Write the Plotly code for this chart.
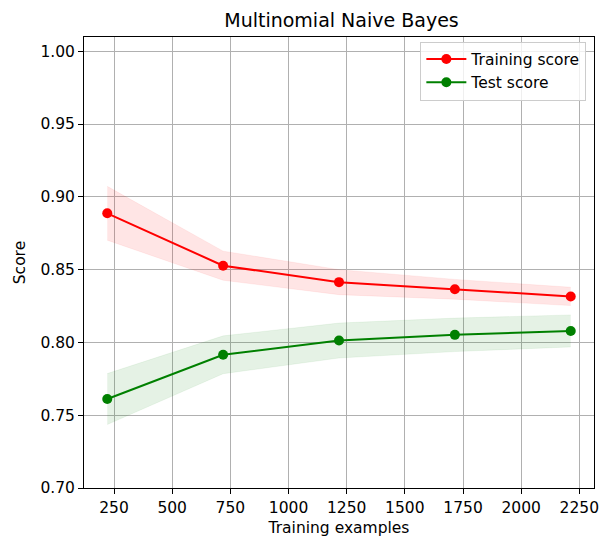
import numpy as np
import plotly.graph_objects as go

train_sizes = [221, 719, 1217, 1715, 2213]
train_mean = [0.8887, 0.8527, 0.8414, 0.8365, 0.8316]
train_std = [0.0185, 0.0100, 0.0086, 0.0068, 0.0063]
test_mean = [0.7611, 0.7915, 0.8013, 0.8052, 0.8079]
test_std = [0.0175, 0.0130, 0.0120, 0.0115, 0.0110]

x_ticks = [250, 500, 750, 1000, 1250, 1500, 1750, 2000, 2250]
y_ticks = [0.70, 0.75, 0.80, 0.85, 0.90, 0.95, 1.00]

FONT = "DejaVu Sans"
fig = go.Figure()

def band(mean, std, fillcolor, edgecolor):
    lo = [m - s for m, s in zip(mean, std)]
    hi = [m + s for m, s in zip(mean, std)]
    fig.add_trace(go.Scatter(x=train_sizes, y=lo, mode="lines", line=dict(width=1, color=edgecolor),
                             showlegend=False, hoverinfo="skip"))
    fig.add_trace(go.Scatter(x=train_sizes, y=hi, mode="lines", line=dict(width=1, color=edgecolor),
                             fill="tonexty", fillcolor=fillcolor, showlegend=False, hoverinfo="skip"))

band(train_mean, train_std, "rgba(255,0,0,0.1)", "rgba(255,0,0,0.06)")
band(test_mean, test_std, "rgba(0,128,0,0.1)", "rgba(0,128,0,0.06)")

fig.add_trace(go.Scatter(x=train_sizes, y=train_mean, mode="lines+markers", name="Training score",
                         line=dict(color="red", width=2), marker=dict(color="red", size=10)))
fig.add_trace(go.Scatter(x=train_sizes, y=test_mean, mode="lines+markers", name="Test score",
                         line=dict(color="green", width=2), marker=dict(color="green", size=10)))

axis_common = dict(showline=True, linecolor="black", linewidth=1, mirror=True,
                   showgrid=True, gridcolor="#b0b0b0", gridwidth=1,
                   ticks="outside", ticklen=5, tickcolor="black", zeroline=False,
                   ticklabeloverflow="allow",
                   tickfont=dict(family=FONT, size=15.5, color="black"))

fig.update_layout(
    width=603, height=537,
    margin=dict(l=84, r=4, t=37, b=49),
    paper_bgcolor="white", plot_bgcolor="white",
    font=dict(family=FONT, color="black"),
    title=dict(text="Multinomial Naive Bayes", x=(84 + 599) / 2 / 603, xanchor="center",
               y=1 - 20 / 537, yanchor="middle", font=dict(family=FONT, size=19, color="black")),
    xaxis=dict(range=[121, 2313], tickvals=x_ticks, ticktext=[str(v) for v in x_ticks],
               title=dict(text="Training examples", font=dict(family=FONT, size=15.5), standoff=6),
               **axis_common),
    yaxis=dict(range=[0.70, 1.0098], tickvals=y_ticks, ticktext=[f"{v:.2f}" for v in y_ticks],
               title=dict(text="Score", font=dict(family=FONT, size=15.5), standoff=10),
               **axis_common),
    legend=dict(x=0.985, y=0.99, xanchor="right", yanchor="top", traceorder="normal",
                bgcolor="rgba(255,255,255,0.8)", bordercolor="#cccccc", borderwidth=1,
                font=dict(family=FONT, size=15.5, color="black"), itemwidth=40),
    showlegend=True,
)

fig.write_html("out.html", config={"displayModeBar": False},
               post_script="document.body.style.margin='0';document.body.style.padding='0';")
